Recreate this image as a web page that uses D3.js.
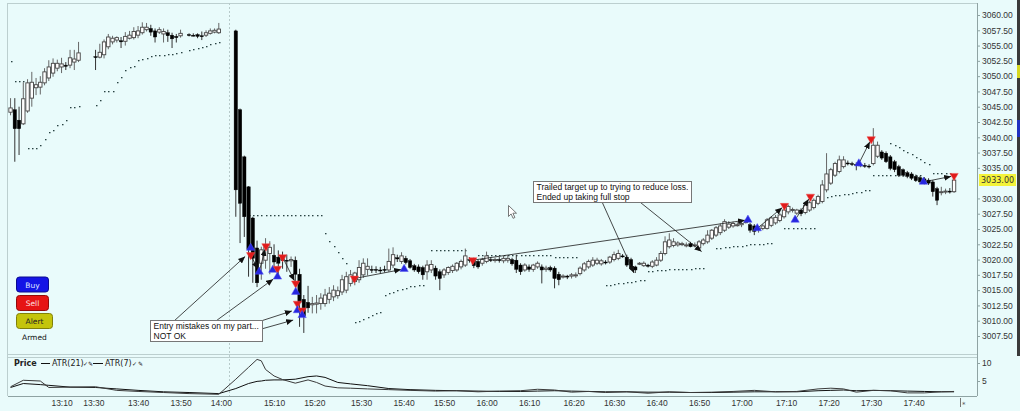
<!DOCTYPE html>
<html>
<head>
<meta charset="utf-8">
<script src="https://cdn.jsdelivr.net/npm/d3@7"></script>
<style>
  html, body { margin: 0; padding: 0; background: #e9fbfb; }
  svg { display: block; font-family: 'DejaVu Sans', sans-serif; }
  .axis text { font-size: 8.5px; fill: #333; }
  .axis line { stroke: #8fa3a3; }
  .axis path { display: none; }
  .note text { font-family: 'Liberation Sans Narrow', 'Liberation Sans', sans-serif; font-size: 8.5px; fill: #111; }
  .btn text { font-size: 7.5px; text-anchor: middle; }
</style>
</head>
<body>
<div id="chart"></div>
<script>
// One-minute bars [open, high, low, close]; null where the feed has no bar
const bars = [
  // 0 - session 1
  [3044.1,3046.4,3043.6,3044.8], [3044.5,3046.4,3036.0,3041.4], [3042.8,3045.0,3037.1,3041.4], [3042.2,3049.0,3042.0,3046.3],
  [3044.3,3049.5,3044.0,3048.9], [3046.4,3050.7,3045.0,3049.0], [3048.1,3049.7,3046.9,3048.6], [3048.2,3050.0,3047.0,3049.0],
  [3048.9,3051.3,3048.5,3050.7], [3049.7,3052.6,3049.2,3051.5],
  // 10
  [3050.5,3052.9,3049.9,3052.1], [3051.3,3052.7,3050.8,3052.1], [3051.5,3053.0,3050.5,3052.0], [3051.8,3052.3,3051.0,3051.6],
  [3051.8,3054.3,3051.3,3053.0], [3052.3,3054.3,3051.0,3052.8], [3052.6,3055.6,3052.3,3053.8], null, null, null,
  // 20
  [3053.2,3054.3,3051.0,3053.1], [3053.1,3055.3,3052.9,3053.9], [3053.5,3056.0,3052.9,3055.6], [3054.8,3056.9,3054.4,3056.4],
  [3055.6,3056.6,3055.2,3056.2], [3055.9,3056.5,3055.5,3056.3], [3055.8,3056.4,3054.6,3055.6], [3055.7,3057.2,3055.0,3056.5],
  [3056.2,3057.4,3056.0,3056.7], [3056.3,3058.0,3056.0,3057.3],
  // 30
  [3056.7,3058.2,3056.2,3057.4], [3057.1,3058.8,3056.8,3058.0], [3057.6,3058.7,3057.3,3058.0], [3057.8,3058.4,3056.6,3057.2],
  [3057.4,3057.8,3055.5,3056.4], [3057.2,3058.0,3056.9,3057.6], [3056.9,3057.8,3055.5,3057.3], [3057.1,3057.6,3055.6,3056.6],
  [3056.7,3057.1,3054.6,3056.1], [3056.5,3056.9,3055.5,3056.3],
  // 40
  [3056.6,3057.6,3056.3,3057.0], null, [3056.8,3057.0,3056.5,3056.7], [3056.7,3057.0,3056.5,3056.6],
  [3056.8,3057.0,3056.2,3056.5], [3056.6,3057.3,3055.9,3056.5], [3056.7,3057.5,3056.4,3057.1], [3057.0,3057.8,3056.8,3057.4],
  [3057.2,3057.8,3057.0,3057.5], [3057.1,3058.7,3056.9,3057.7],
  // 50 - session 2 starts at 53
  null, null, null, [3057.4,3057.6,3027.0,3031.4],
  [3044.5,3044.7,3022.7,3029.2], [3036.8,3037.0,3023.7,3027.0], [3031.9,3032.0,3017.2,3021.6], [3026.8,3027.0,3016.2,3020.2],
  [3021.9,3023.1,3015.5,3016.2], [3019.4,3022.1,3016.7,3021.6],
  // 60
  [3019.9,3023.5,3018.5,3022.1], [3021.0,3023.0,3017.6,3022.0], [3020.7,3022.5,3018.0,3019.6], [3020.4,3021.5,3017.5,3019.4],
  [3020.2,3021.3,3018.5,3019.8], [3019.9,3020.8,3018.0,3019.8], [3019.8,3020.5,3018.8,3020.0], [3019.9,3020.5,3016.4,3017.6],
  [3017.6,3018.5,3009.0,3013.0], [3013.5,3014.2,3008.0,3010.8],
  // 70
  [3013.0,3015.7,3011.3,3012.1], [3012.6,3013.9,3011.2,3012.8], [3012.7,3014.2,3011.2,3012.9], [3012.8,3014.5,3011.8,3013.7],
  [3012.8,3015.2,3012.3,3014.2], [3013.5,3015.5,3012.8,3014.5], [3013.9,3015.8,3013.2,3015.0], [3014.1,3015.6,3013.6,3014.9],
  [3014.7,3017.5,3014.2,3016.7], [3015.0,3018.0,3014.5,3017.2],
  // 80
  [3016.1,3018.3,3015.6,3017.5], [3016.4,3018.0,3015.8,3017.8], [3016.7,3019.9,3016.2,3018.7], [3017.5,3020.2,3017.0,3019.4],
  [3018.4,3020.2,3017.4,3018.9], [3018.4,3019.0,3017.8,3018.3], [3018.4,3018.9,3017.8,3018.3], [3018.3,3018.8,3017.7,3018.2],
  [3018.4,3019.0,3017.9,3018.3], [3018.3,3021.8,3018.0,3019.7],
  // 90
  [3019.1,3022.0,3018.6,3020.8], [3020.3,3020.8,3019.6,3020.1], [3019.7,3021.2,3019.3,3020.6], [3020.2,3020.6,3019.2,3019.5],
  [3019.8,3020.1,3018.5,3018.7], [3019.0,3019.3,3018.0,3018.3], [3018.8,3019.2,3017.7,3018.0], [3018.7,3019.0,3016.7,3017.5],
  [3018.0,3019.9,3016.7,3019.1], [3018.3,3019.9,3017.8,3019.2],
  // 100
  [3018.6,3019.0,3016.7,3017.3], [3018.0,3018.4,3015.0,3016.9], [3017.5,3018.6,3017.0,3018.3], [3017.9,3018.9,3017.5,3018.7],
  [3018.2,3019.2,3017.8,3018.9], [3018.3,3019.6,3018.0,3019.4], [3018.8,3020.0,3018.4,3019.7], [3019.1,3021.8,3018.8,3020.6],
  [3020.0,3020.4,3019.5,3019.9], [3019.9,3020.3,3018.6,3019.0],
  // 110
  [3019.7,3020.0,3018.5,3018.8], [3019.4,3020.3,3019.0,3020.0], [3019.7,3021.3,3019.4,3020.6], [3020.0,3020.4,3019.6,3019.9],
  [3019.9,3020.3,3019.5,3020.0], [3020.0,3020.4,3019.5,3019.9], [3019.8,3020.6,3019.4,3020.2], [3019.9,3020.7,3019.5,3020.2],
  [3020.0,3020.3,3019.0,3019.3], [3019.9,3020.8,3017.8,3018.4],
  // 120
  [3019.1,3019.4,3017.5,3018.0], [3018.3,3019.4,3018.0,3019.1], [3018.8,3019.2,3018.0,3018.4], [3018.4,3019.3,3018.0,3019.1],
  [3018.8,3019.7,3018.5,3019.4], [3018.8,3019.2,3016.1,3018.3], [3018.4,3019.0,3018.0,3018.6], [3018.7,3019.0,3018.0,3018.3],
  [3018.6,3018.9,3015.3,3016.9], [3017.6,3018.0,3015.8,3016.7],
  // 130
  [3017.3,3017.6,3016.9,3017.3], [3017.3,3017.5,3016.8,3017.2], [3017.3,3017.8,3016.9,3017.5], [3017.4,3017.9,3017.0,3017.5],
  [3017.7,3018.9,3017.4,3018.6], [3018.3,3019.6,3018.0,3019.3], [3018.8,3020.0,3018.5,3019.7], [3019.1,3020.4,3018.8,3019.9],
  [3019.4,3020.3,3019.1,3019.9], [3019.3,3020.1,3019.0,3019.8],
  // 140
  [3019.6,3019.9,3019.2,3019.5], [3019.6,3020.6,3019.3,3020.4], [3020.0,3021.3,3019.7,3020.8], [3020.2,3021.6,3019.9,3021.0],
  [3020.6,3020.9,3020.3,3020.5], [3020.4,3020.8,3018.8,3019.1], [3020.0,3020.3,3018.3,3018.7], [3018.8,3019.0,3017.8,3018.3],
  [3019.3,3019.6,3019.1,3019.4], [3019.0,3019.7,3018.8,3019.4],
  // 150
  [3019.1,3019.3,3018.7,3018.9], [3018.9,3019.9,3018.6,3019.6], [3019.1,3020.4,3018.9,3019.9], [3019.9,3021.4,3019.6,3021.0],
  [3021.0,3023.8,3020.7,3022.9], [3022.1,3024.3,3021.8,3023.2], [3022.3,3023.5,3022.0,3022.9], [3022.4,3023.0,3022.1,3022.7],
  [3022.5,3022.9,3022.2,3022.6], [3022.4,3022.8,3022.0,3022.4],
  // 160
  [3022.6,3022.9,3022.0,3022.1], [3022.4,3022.8,3022.0,3022.4], [3021.9,3023.2,3021.4,3022.9], [3022.6,3023.5,3022.3,3023.2],
  [3022.9,3024.8,3022.6,3024.0], [3023.5,3025.0,3023.2,3024.8], [3024.0,3025.5,3023.7,3025.2], [3024.4,3025.9,3024.0,3025.5],
  [3024.8,3026.6,3024.5,3026.2], [3025.3,3026.3,3025.0,3025.8],
  // 170
  [3025.5,3026.2,3025.2,3025.9], [3025.7,3026.1,3025.4,3025.7], [3025.7,3026.2,3025.3,3025.9], [3026.2,3026.6,3025.9,3026.2],
  [3025.7,3026.0,3024.4,3024.8], [3025.5,3025.8,3024.0,3024.6], [3024.9,3025.4,3024.4,3025.1], [3025.1,3025.8,3024.8,3025.5],
  [3025.1,3026.8,3024.9,3026.5], [3025.6,3027.1,3025.3,3026.8],
  // 180
  [3026.0,3027.3,3025.7,3026.9], [3026.4,3027.6,3026.1,3027.3], [3027.0,3028.8,3026.7,3028.1], [3027.8,3029.0,3027.4,3028.7],
  [3028.1,3028.5,3027.7,3028.2], [3027.6,3028.3,3027.3,3028.1], [3028.1,3028.4,3027.1,3027.5], [3027.7,3029.2,3027.4,3028.9],
  [3028.1,3029.6,3027.8,3029.3], [3028.5,3030.0,3028.2,3029.7],
  // 190
  [3029.2,3030.6,3028.9,3030.3], [3029.5,3033.0,3029.2,3032.2], [3031.4,3037.4,3031.0,3034.0], [3032.5,3035.0,3032.2,3034.7],
  [3033.8,3036.0,3033.5,3035.7], [3034.4,3037.0,3034.1,3036.3], [3035.2,3036.9,3034.9,3036.3], [3035.8,3036.2,3035.4,3035.7],
  [3035.7,3036.0,3035.3,3035.6], [3035.6,3035.9,3034.6,3035.4],
  // 200
  [3035.5,3035.9,3035.1,3035.5], [3035.4,3035.8,3035.0,3035.3], [3035.3,3035.6,3034.9,3035.2], [3035.7,3041.5,3035.4,3038.7],
  [3036.9,3039.3,3036.6,3038.7], [3037.6,3037.9,3036.3,3036.6], [3037.4,3037.7,3035.8,3036.0], [3036.8,3037.1,3034.6,3034.9],
  [3036.0,3036.3,3034.3,3034.7], [3035.2,3035.5,3033.5,3033.8],
  // 210
  [3034.7,3034.9,3033.5,3033.8], [3034.2,3034.5,3033.3,3033.6], [3034.0,3034.3,3033.0,3033.3], [3033.6,3033.9,3032.7,3032.9],
  [3033.4,3033.7,3032.4,3032.7], [3033.2,3033.5,3032.3,3032.6], [3033.0,3033.3,3032.2,3032.5], [3032.7,3033.0,3030.3,3031.1],
  [3031.6,3031.9,3028.9,3029.7], [3031.1,3031.9,3030.5,3031.1],
  // 220
  [3031.1,3031.6,3030.7,3031.2], [3031.2,3031.7,3030.8,3031.1], [3031.1,3033.3,3030.9,3033.0]
];

// Trailing stop dots: [first bar, stop prices bar by bar]
const stopRuns = [
  [0, [3052.4]],
  [1, [3049.2, 3049.2, 3049.2]],
  [4, [3038.2, 3038.2, 3038.2, 3038.7, 3039.7, 3040.8, 3041.2, 3042.0, 3042.2, 3042.8, 3045.0, 3045.0, 3045.1]],
  [20, [3045.3, 3046.1, 3047.5, 3047.5, 3047.6, 3049.1, 3049.9, 3051.0, 3051.5, 3051.7, 3052.6, 3052.8, 3053.0,
        3053.3, 3053.5, 3053.5, 3053.5, 3053.6, 3053.7, 3053.8, 3054.0]],
  [42, [3054.3, 3054.4, 3054.6, 3054.8, 3055.0, 3055.3, 3055.5, 3055.6]],
  [56, [3027.3, 3027.3, 3027.3, 3027.3, 3027.3, 3027.3, 3027.3, 3027.3, 3027.3, 3027.3, 3027.3, 3027.3,
        3027.3, 3027.3, 3027.3, 3027.3, 3027.3, 3027.3]],
  [74, [3024.3, 3023.0, 3022.3, 3021.3, 3020.2, 3019.5]],
  [81, [3009.8, 3010.0, 3010.3, 3010.6, 3010.9, 3011.2, 3011.5]],
  [88, [3014.2, 3014.5, 3014.7, 3015.0, 3015.2, 3015.4, 3015.6, 3015.7, 3015.8, 3015.9]],
  [99, [3021.6, 3021.6, 3021.6, 3021.6, 3021.6, 3021.6, 3021.6, 3021.6, 3021.6]],
  [110, [3020.8, 3020.8, 3020.8, 3020.8, 3020.8, 3020.8, 3020.8, 3020.8, 3020.8, 3020.8, 3020.7, 3020.7,
         3020.7, 3020.7, 3020.7, 3020.7, 3020.7, 3020.7, 3020.5, 3020.5, 3020.5, 3020.5, 3020.5, 3020.5]],
  [140, [3015.8, 3015.9, 3016.0, 3016.1, 3016.2, 3016.3, 3016.4, 3016.5, 3016.6, 3016.6]],
  [150, [3018.2, 3018.2, 3018.3, 3018.3, 3018.3, 3018.4, 3018.4, 3018.4, 3018.5, 3018.5, 3018.5, 3018.6, 3018.6, 3018.6]],
  [166, [3021.9, 3021.9, 3022.0, 3022.1, 3022.2, 3022.3, 3022.3, 3022.4, 3022.5, 3022.5, 3022.6, 3022.6, 3022.7, 3022.7]],
  [182, [3025.2, 3025.2, 3025.2, 3025.2, 3025.2, 3025.2, 3025.2, 3025.2]],
  [192, [3030.3, 3030.4, 3030.5, 3030.6, 3030.7, 3030.8, 3030.9, 3031.0, 3031.1, 3031.3, 3031.4]],
  [203, [3033.9, 3033.9, 3033.9, 3033.9, 3033.9, 3033.9, 3033.9, 3033.9, 3033.9, 3033.9, 3033.9, 3033.9]],
  [207, [3039.1, 3038.7, 3038.4, 3038.0, 3037.6, 3037.2, 3036.8, 3036.4, 3036.0, 3035.7]],
  [217, [3034.1, 3034.1, 3034.1, 3034.1, 3034.1]]
];

// Executions: [bar position, price, side]
const fills = [
  [56.5, 3021.9, 'buy'], [56.5, 3020.75, 'sell'], [58.5, 3018.0, 'buy'], [60.1, 3022.2, 'sell'],
  [61.7, 3018.3, 'buy'], [62.8, 3018.5, 'sell'], [62.8, 3017.2, 'buy'], [64, 3020.4, 'sell'],
  [67.1, 3016.1, 'sell'], [67.1, 3014.7, 'buy'], [67.5, 3012.8, 'sell'], [67.5, 3011.7, 'buy'],
  [68.6, 3011.7, 'sell'], [68.6, 3010.9, 'buy'],
  [80.9, 3016.9, 'sell'], [92.6, 3018.45, 'buy'], [108.75, 3019.9, 'sell'],
  [173.5, 3026.5, 'buy'], [175.7, 3025.1, 'buy'], [182.1, 3028.8, 'sell'], [184.6, 3026.5, 'buy'],
  [188.2, 3030.3, 'sell'], [199.6, 3035.7, 'buy'], [202.5, 3039.7, 'sell'], [214.8, 3032.7, 'buy'],
  [222, 3033.7, 'sell']
];

// Trade lines entry -> exit: [bar, price, bar, price]
const trades = [
  [56.5, 3020.75, 58.5, 3018.0], [58.5, 3018.0, 60.1, 3022.2], [64, 3020.4, 67.1, 3016.1],
  [80.9, 3016.9, 92.6, 3018.45], [108.75, 3019.9, 173.5, 3026.5], [175.7, 3025.1, 182.1, 3028.8],
  [184.6, 3026.5, 188.2, 3030.3], [199.6, 3035.7, 202.5, 3039.7], [214.8, 3032.7, 222, 3033.7]
];

// Text notes drawn on the chart (anchor = top left corner in bar / price)
const notes = [
  {bar: 32.8, price: 3010.1, lines: ['Entry mistakes on my part...', 'NOT OK']},
  {bar: 122.9, price: 3032.85, lines: ['Trailed target up to trying to reduce loss.', 'Ended up taking full stop']}
];
const noteArrows = [
  [38.7, 3010.1, 55.2, 3020.5], [48.6, 3010.1, 61.8, 3016.8], [54.7, 3009.0, 66.2, 3011.6],
  [54.7, 3007.8, 66.5, 3010.1], [139.2, 3029.4, 146.7, 3017.8], [148.1, 3029.4, 162.6, 3021.3]
];

// ATR study, read at these bars
const atrBars = [0, 3, 7, 9, 14, 20, 25, 30, 36, 42, 49, 53, 56, 58, 59, 60, 62, 64, 67, 70, 72, 74, 77, 80, 84, 89, 94,
  100, 105, 110, 115, 120, 124, 128, 132, 136, 140, 145, 150, 155, 160, 165, 170, 175, 180, 185, 190, 193, 196, 199,
  203, 207, 211, 215, 219, 222];
const atr7 = [3.4, 5.2, 5.0, 3.2, 3.3, 3.4, 2.4, 2.1, 1.8, 1.5, 1.3, 5.5, 8.8, 11.0, 10.6, 8.2, 6.4, 5.4, 4.4, 5.3,
  4.6, 3.6, 3.1, 3.0, 2.8, 2.6, 2.4, 2.2, 2.3, 2.0, 2.2, 2.3, 2.7, 2.5, 1.9, 2.1, 1.8, 2.0, 1.6, 2.0, 1.8, 1.9, 2.1,
  2.4, 2.0, 2.1, 2.8, 3.0, 2.8, 1.9, 2.4, 2.3, 1.7, 1.7, 2.0, 2.1];
const atr21 = [3.2, 4.3, 4.0, 3.8, 3.3, 3.2, 2.8, 2.4, 2.0, 1.8, 1.5, 2.9, 4.3, 4.9, 5.0, 5.2, 5.3, 5.3, 5.5, 6.2,
  6.4, 6.0, 4.6, 4.2, 3.7, 2.9, 2.6, 2.4, 2.3, 2.2, 2.1, 2.1, 2.2, 2.3, 2.2, 2.1, 2.0, 2.0, 1.9, 1.9, 1.8, 1.8, 1.9,
  2.0, 2.0, 2.0, 2.3, 2.4, 2.5, 2.3, 2.4, 2.3, 2.2, 2.1, 2.0, 2.0];

// Axis labels
const timeTickBars = [12, 19.5, 30, 40, 49.5, 62, 71.5, 82.5, 92.5, 102, 112, 122, 132.5, 142, 152, 162, 172, 182.5, 192.5, 202.5, 212.5];
const timeTickLabels = ['13:10', '13:30', '13:40', '13:50', '14:00', '15:10', '15:20', '15:30', '15:40', '15:50', '16:00',
  '16:10', '16:20', '16:30', '16:40', '16:50', '17:00', '17:10', '17:20', '17:30', '17:40'];
const priceTicks = [3007.5, 3010, 3012.5, 3015, 3017.5, 3020, 3022.5, 3025, 3027.5, 3030, 3035, 3037.5,
  3040, 3042.5, 3045, 3047.5, 3050, 3052.5, 3055, 3057.5, 3060];
const atrTicks = [5, 10];
const sessionBreakBar = 51.5;

const config = {
  width: 1020, height: 411,
  left: 8, right: 977, top: 3,
  mainBottom: 354, atrTop: 357, axisY: 396,
  barPad: 0.6, rightPadBars: 5.4,
  bodyWidth: 3.4,
  bg: '#e9fbfb', frame: '#bccfcf'
};

const svg = d3.select('#chart').append('svg')
    .attr('width', config.width)
    .attr('height', config.height);

svg.append('rect').attr('width', config.width).attr('height', config.height).attr('fill', config.bg);

// Scales: x is bar number, y is price
const x = d3.scaleLinear()
    .domain([-config.barPad, bars.length - 1 + config.rightPadBars])
    .range([config.left, config.right]);
const y = d3.scaleLinear().domain([3007.5, 3060]).range([336, 15]);
const yAtr = d3.scaleLinear().domain([5, 10]).range([381, 363]);

const defs = svg.append('defs');
defs.append('clipPath').attr('id', 'clip-main').append('rect')
    .attr('x', config.left).attr('y', config.top)
    .attr('width', config.right - config.left).attr('height', config.mainBottom - config.top);
defs.append('clipPath').attr('id', 'clip-atr').append('rect')
    .attr('x', config.left).attr('y', config.atrTop)
    .attr('width', config.right - config.left).attr('height', config.axisY - config.atrTop);
defs.append('marker')
    .attr('id', 'arrow')
    .attr('viewBox', '0 0 7 6')
    .attr('refX', 7).attr('refY', 3)
    .attr('markerWidth', 7).attr('markerHeight', 6)
    .attr('markerUnits', 'userSpaceOnUse')
    .attr('orient', 'auto')
  .append('path')
    .attr('d', 'M0,0 L7,3 L0,6 Z')
    .attr('fill', '#111');

// Frame and panel separators
const frame = svg.append('g').attr('stroke', config.frame).attr('fill', 'none');
frame.append('line').attr('x1', config.left).attr('x2', config.right).attr('y1', config.top + 0.5).attr('y2', config.top + 0.5);
frame.append('line').attr('x1', config.left - 0.5).attr('x2', config.left - 0.5).attr('y1', config.top).attr('y2', config.axisY);
frame.append('line').attr('x1', config.left).attr('x2', config.right).attr('y1', config.mainBottom + 0.5).attr('y2', config.mainBottom + 0.5);
frame.append('line').attr('x1', config.left).attr('x2', config.right).attr('y1', config.atrTop + 0.5).attr('y2', config.atrTop + 0.5);
frame.append('line').attr('x1', config.right + 0.5).attr('x2', config.right + 0.5).attr('y1', config.top).attr('y2', config.axisY)
    .attr('stroke', '#8fa3a3');
frame.append('line').attr('x1', config.left).attr('x2', config.right).attr('y1', config.axisY + 0.5).attr('y2', config.axisY + 0.5)
    .attr('stroke', '#8fa3a3');

// Session break
svg.append('line')
    .attr('x1', Math.round(x(sessionBreakBar)) + 0.5).attr('x2', Math.round(x(sessionBreakBar)) + 0.5)
    .attr('y1', config.top).attr('y2', config.axisY)
    .attr('stroke', '#b7caca')
    .attr('stroke-dasharray', '2,2');

const main = svg.append('g').attr('clip-path', 'url(#clip-main)');

// Trailing stop dots
const stopDots = stopRuns.flatMap(([start, vals]) => vals.map((p, k) => ({i: start + k, p})));
main.append('g').selectAll('rect')
    .data(stopDots)
  .join('rect')
    .attr('x', d => Math.round(x(d.i)))
    .attr('y', d => Math.round(y(d.p)))
    .attr('width', 1.5)
    .attr('height', 1.3)
    .attr('fill', '#2a4444');

// Candles
const candles = bars.map((b, i) => b && {i, o: b[0], h: b[1], l: b[2], c: b[3], up: b[3] >= b[0]}).filter(d => d);
const bw = config.bodyWidth;

main.append('g').selectAll('line')
    .data(candles)
  .join('line')
    .attr('x1', d => x(d.i)).attr('x2', d => x(d.i))
    .attr('y1', d => y(d.h)).attr('y2', d => y(d.l))
    .attr('stroke', d => d.up ? '#666' : '#333')
    .attr('stroke-width', 1);

main.append('g').selectAll('rect')
    .data(candles)
  .join('rect')
    .attr('x', d => x(d.i) - bw / 2)
    .attr('width', bw)
    .attr('y', d => y(Math.max(d.o, d.c)))
    .attr('height', d => Math.max(1, y(Math.min(d.o, d.c)) - y(Math.max(d.o, d.c))))
    .attr('fill', d => d.up ? '#fff' : '#000')
    .attr('stroke', d => d.up ? '#444' : '#000')
    .attr('stroke-width', d => d.up ? 0.9 : 0.4);

// Trade lines (entry -> exit) with arrow heads
function shortened(x1, y1, x2, y2, cut) {
  const len = Math.hypot(x2 - x1, y2 - y1) || 1;
  return [x2 - (x2 - x1) / len * cut, y2 - (y2 - y1) / len * cut];
}
main.append('g').selectAll('line')
    .data(trades)
  .join('line')
    .attr('x1', d => x(d[0])).attr('y1', d => y(d[1]))
    .attr('x2', d => shortened(x(d[0]), y(d[1]), x(d[2]), y(d[3]), 3)[0])
    .attr('y2', d => shortened(x(d[0]), y(d[1]), x(d[2]), y(d[3]), 3)[1])
    .attr('stroke', '#1a1a1a')
    .attr('stroke-width', 0.8)
    .attr('marker-end', 'url(#arrow)');

// Buy / sell triangles
const tri = d3.symbol().type(d3.symbolTriangle).size(30);
main.append('g').selectAll('path')
    .data(fills)
  .join('path')
    .attr('d', tri)
    .attr('transform', d => `translate(${x(d[0])},${y(d[1])}) rotate(${d[2] === 'sell' ? 180 : 0})`)
    .attr('fill', d => d[2] === 'buy' ? '#2626e0' : '#e01b1b')
    .attr('stroke', d => d[2] === 'buy' ? '#5555ee' : '#f05050')
    .attr('stroke-width', 0.5);

// Note arrows and boxes
main.append('g').selectAll('line')
    .data(noteArrows)
  .join('line')
    .attr('x1', d => x(d[0])).attr('y1', d => y(d[1]))
    .attr('x2', d => x(d[2])).attr('y2', d => y(d[3]))
    .attr('stroke', '#1a1a1a')
    .attr('stroke-width', 0.8)
    .attr('marker-end', 'url(#arrow)');

const noteG = main.append('g').attr('class', 'note').selectAll('g')
    .data(notes)
  .join('g')
    .attr('transform', d => `translate(${Math.round(x(d.bar)) + 0.5},${Math.round(y(d.price)) + 0.5})`);
const noteBox = noteG.append('rect').attr('fill', '#fff').attr('stroke', '#777');
noteG.selectAll('text')
    .data(d => d.lines)
  .join('text')
    .attr('x', 3)
    .attr('y', (d, k) => 8.5 + k * 10)
    .text(d => d);
noteBox
    .attr('width', function() {
      const texts = d3.select(this.parentNode).selectAll('text').nodes();
      return Math.ceil(d3.max(texts, t => t.getComputedTextLength())) + 6;
    })
    .attr('height', d => d.lines.length * 10 + 1);

// ATR panel
const atrLine = d3.line()
    .x((d, k) => x(atrBars[k]))
    .y(d => yAtr(d));
const atrG = svg.append('g').attr('clip-path', 'url(#clip-atr)');
atrG.append('path').datum(atr21).attr('d', atrLine).attr('fill', 'none').attr('stroke', '#111').attr('stroke-width', 1);
atrG.append('path').datum(atr7).attr('d', atrLine).attr('fill', 'none').attr('stroke', '#3a3a3a').attr('stroke-width', 1);

const legend = svg.append('g').attr('font-size', 8).attr('fill', '#222');
legend.append('text').attr('x', 14).attr('y', 366).attr('font-weight', 'bold').text('Price');
legend.append('line').attr('x1', 41).attr('x2', 50).attr('y1', 363.5).attr('y2', 363.5).attr('stroke', '#111');
legend.append('text').attr('x', 52).attr('y', 366).text('ATR(21)');
legend.append('text').attr('x', 83).attr('y', 366).attr('font-size', 6).text('\u2713');
legend.append('text').attr('x', 88).attr('y', 366).attr('font-size', 6).text('\u270E');
legend.append('line').attr('x1', 93).attr('x2', 103).attr('y1', 363.5).attr('y2', 363.5).attr('stroke', '#111');
legend.append('text').attr('x', 105).attr('y', 366).text('ATR(7)');
legend.append('text').attr('x', 132).attr('y', 366).attr('font-size', 6).text('\u2713');
legend.append('text').attr('x', 138).attr('y', 366).attr('font-size', 6).text('\u270E');

// Axes
svg.append('g')
    .attr('class', 'axis')
    .attr('transform', `translate(${config.right},0)`)
    .call(d3.axisRight(y).tickValues(priceTicks).tickFormat(d3.format('.2f')).tickSize(3).tickPadding(2));

svg.append('g')
    .attr('class', 'axis')
    .attr('transform', `translate(${config.right},0)`)
    .call(d3.axisRight(yAtr).tickValues(atrTicks).tickFormat(d3.format('d')).tickSize(3).tickPadding(2));

svg.append('g')
    .attr('class', 'axis')
    .attr('transform', `translate(0,${config.axisY})`)
    .call(d3.axisBottom(x).tickValues(timeTickBars).tickFormat((d, k) => timeTickLabels[k]).tickSize(0).tickPadding(4));

// Last price tag
const last = bars[bars.length - 1][3];
const tag = svg.append('g').attr('transform', `translate(${config.right + 2},${Math.round(y(last))})`);
tag.append('rect').attr('x', 0).attr('y', -6).attr('width', 37).attr('height', 12).attr('fill', '#f3f33a');
tag.append('text').attr('x', 2).attr('y', 3).attr('font-size', 8).attr('fill', '#333').text(d3.format('.2f')(last));

// Right edge strip
svg.append('rect').attr('x', 1017).attr('y', 0).attr('width', 3).attr('height', config.mainBottom + 2).attr('fill', '#3a3a3a');
svg.append('rect').attr('x', 1017).attr('y', 65).attr('width', 3).attr('height', 13).attr('fill', '#d8d820');
svg.append('rect').attr('x', 1017).attr('y', 120).attr('width', 3).attr('height', 17).attr('fill', '#2030c0');

// End-of-data marker on the time axis
svg.append('line').attr('x1', 960.5).attr('x2', 960.5).attr('y1', 398).attr('y2', 407).attr('stroke', '#777');
svg.append('text').attr('x', 962).attr('y', 407).attr('font-size', 7).attr('fill', '#555').text('*');

// Order buttons
const buttons = [
  {label: 'Buy', y: 277, w: 32, fill: '#1414e6', stroke: '#0a0a90', text: '#dfe6ff'},
  {label: 'Sell', y: 295.5, w: 32, fill: '#e61414', stroke: '#900a0a', text: '#ffe0e0'},
  {label: 'Alert', y: 313.5, w: 36, fill: '#c4c40c', stroke: '#80800a', text: '#222'}
];
const btn = svg.append('g').attr('class', 'btn').selectAll('g')
    .data(buttons)
  .join('g')
    .attr('transform', d => `translate(16.5,${d.y})`);
btn.append('rect')
    .attr('width', d => d.w).attr('height', 15).attr('rx', 3)
    .attr('fill', d => d.fill).attr('stroke', d => d.stroke);
btn.append('text')
    .attr('x', d => d.w / 2).attr('y', 10.5)
    .attr('fill', d => d.text)
    .text(d => d.label);
svg.append('text').attr('x', 22).attr('y', 340).attr('font-size', 7.5).attr('fill', '#111').text('Armed');

// Mouse pointer left on the chart
svg.append('path')
    .attr('d', 'M508.5,205.5 l0,11 l2.6,-2.6 l2,4.4 l1.8,-0.8 l-2,-4.3 l3.6,0 z')
    .attr('fill', '#fff')
    .attr('stroke', '#555')
    .attr('stroke-width', 0.8);
</script>
</body>
</html>
